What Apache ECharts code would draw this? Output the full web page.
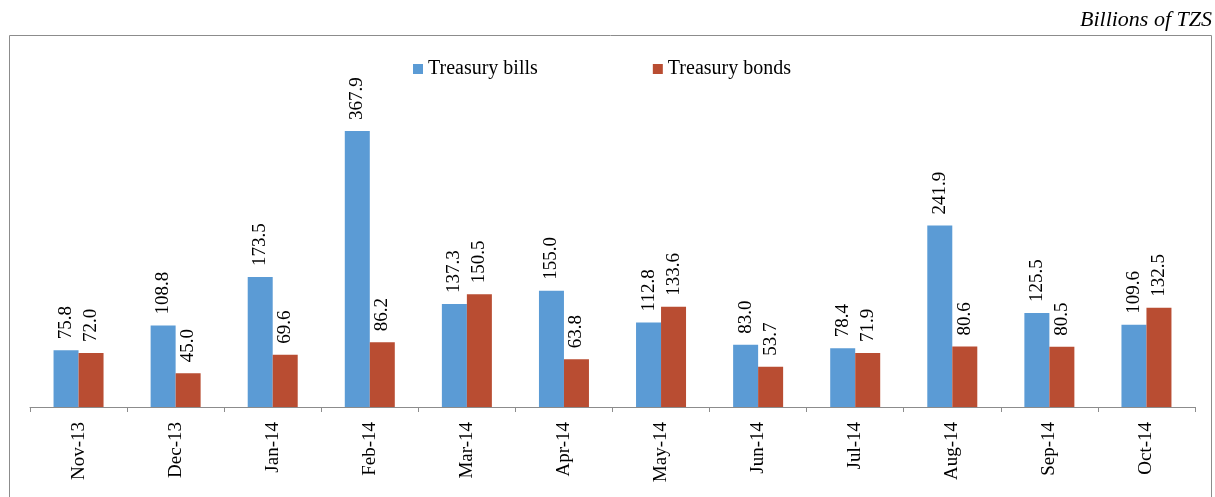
<!DOCTYPE html>
<html>
<head>
<meta charset="utf-8">
<script src="https://cdn.jsdelivr.net/npm/echarts@6/dist/echarts.min.js"></script>
<style>
  html, body { margin: 0; padding: 0; background: #fff; }
  #chart { width: 1215px; height: 497px; }
</style>
</head>
<body>
<div id="chart"></div>
<script>
const months = ["Nov-13", "Dec-13", "Jan-14", "Feb-14", "Mar-14", "Apr-14",
  "May-14", "Jun-14", "Jul-14", "Aug-14", "Sep-14", "Oct-14"];
const bills = [75.8, 108.8, 173.5, 367.9, 137.3, 155.0, 112.8, 83.0, 78.4, 241.9, 125.5, 109.6];
const bonds = [72.0, 45.0, 69.6, 86.2, 150.5, 63.8, 133.6, 53.7, 71.9, 80.6, 80.5, 132.5];

const serif = "Liberation Serif";
const chart = echarts.init(document.getElementById("chart"));

const barLabel = {
  show: true,
  position: "top",
  rotate: 90,
  align: "left",
  verticalAlign: "middle",
  distance: 11,
  fontFamily: serif,
  fontSize: 19,
  color: "#000",
  formatter: (p) => p.value.toFixed(1),
};

chart.setOption({
  animation: false,
  textStyle: { fontFamily: serif },
  graphic: [
    {
      type: "rect",
      shape: { x: 9.5, y: 35.5, width: 1202, height: 480 },
      style: { fill: "none", stroke: "#8c8c8c", lineWidth: 1 },
    },
    {
      type: "text",
      right: 3,
      top: 9,
      style: { text: "Billions of TZS", font: "italic 22px 'Liberation Serif'", fill: "#000" },
    },
  ],
  legend: {
    top: 54,
    left: 408,
    itemGap: 115,
    itemWidth: 10,
    itemHeight: 10,
    icon: "rect",
    textStyle: { fontFamily: serif, fontSize: 20, color: "#000" },
    data: ["Treasury bills", "Treasury bonds"],
  },
  grid: { left: 30, right: 20, top: 107, bottom: 90, containLabel: false },
  xAxis: {
    type: "category",
    data: months,
    axisLine: { lineStyle: { color: "#8c8c8c" } },
    axisTick: { show: true, length: 5, lineStyle: { color: "#8c8c8c" } },
    axisLabel: { rotate: 90, fontFamily: serif, fontSize: 19, color: "#000", margin: 15 },
  },
  yAxis: {
    type: "value",
    min: 0,
    max: 400,
    show: false,
    splitLine: { show: false },
  },
  series: [
    {
      name: "Treasury bills",
      type: "bar",
      data: bills,
      barWidth: 25,
      barGap: "0%",
      itemStyle: { color: "#5b9bd5" },
      label: barLabel,
    },
    {
      name: "Treasury bonds",
      type: "bar",
      data: bonds,
      barWidth: 25,
      itemStyle: { color: "#b94d32" },
      label: barLabel,
    },
  ],
});
</script>
</body>
</html>
